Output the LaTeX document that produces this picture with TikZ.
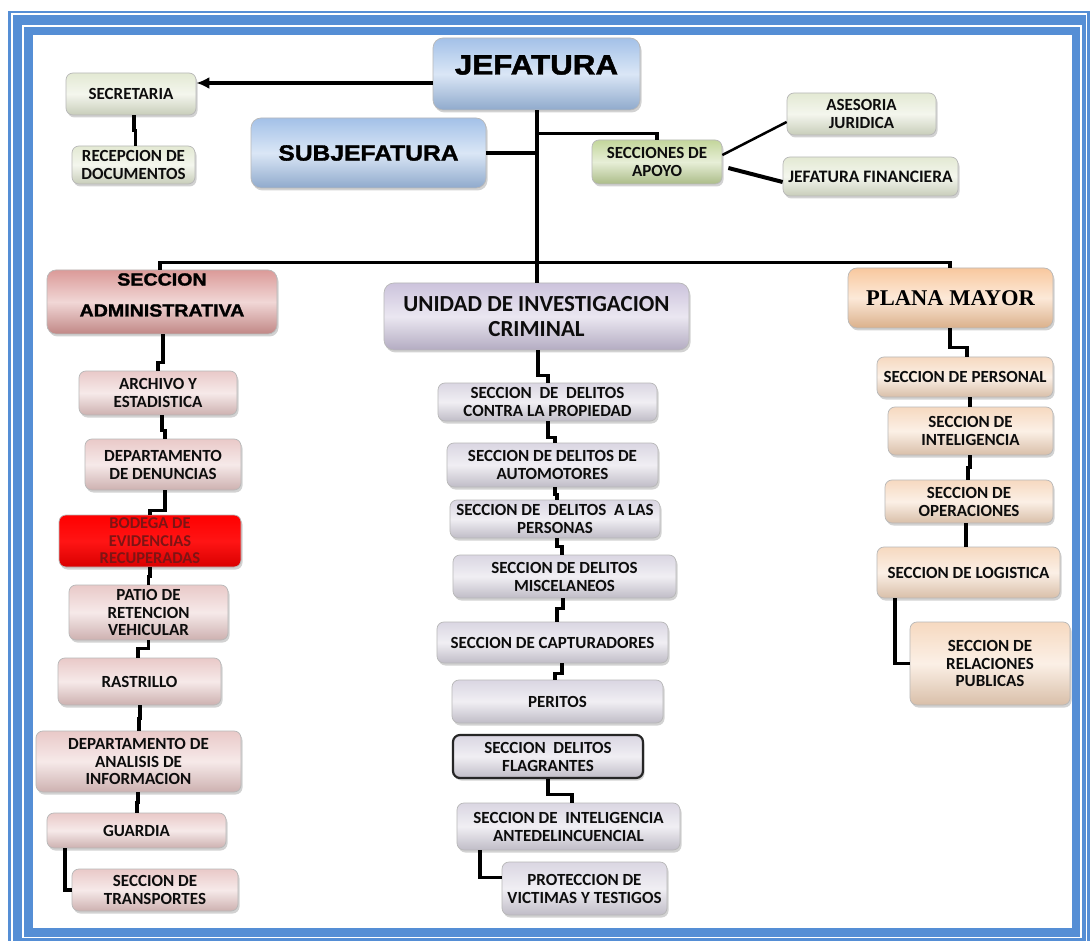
\documentclass[tikz,border=0pt]{standalone}
\usepackage{fontspec}
\setmainfont{Carlito}
\newfontfamily\heavyfont{Liberation Sans}[FakeStretch=1.12, BoldFeatures={FakeBold=1.6}]
\newfontfamily\serifbold{Liberation Serif}
\usetikzlibrary{shadows,arrows.meta,calc}
\definecolor{frameblue}{HTML}{558ED5}
\definecolor{cblue}{HTML}{A3C1E8}
\definecolor{cgreen}{HTML}{C3D69B}
\definecolor{ccream}{HTML}{E3E9D3}
\definecolor{csa}{HTML}{DB9A98}
\definecolor{clpink}{HTML}{E9C9C8}
\definecolor{cuic}{HTML}{CCC3DC}
\definecolor{clav}{HTML}{DAD6E2}
\definecolor{cpm}{HTML}{F8C89E}
\definecolor{clpeach}{HTML}{F6D9C0}
\definecolor{cbodtext}{HTML}{7E1414}
\begin{document}
\begin{tikzpicture}[x=1pt,y=-1pt,
  conn/.style={line width=3.2pt},
  boxbase/.style={rounded corners=7pt, align=center, inner sep=1pt, draw=black!28, line width=.7pt,
    text=black!95, font=\bfseries\fontsize{17}{18}\selectfont,
    drop shadow={shadow xshift=1.5pt, shadow yshift=-2.5pt, opacity=.35}},
  grad/.style={top color=#1, bottom color=#1!88!black, middle color=#1!40!white},
  wh/.style 2 args={minimum width=#1pt, minimum height=#2pt},
  bluebox/.style={boxbase, grad=cblue, rounded corners=10pt, text=black},
  greenbox/.style={boxbase, grad=cgreen},
  creambox/.style={boxbase, grad=ccream},
  sabox/.style={boxbase, grad=csa, rounded corners=9pt, text=black},
  lpinkbox/.style={boxbase, grad=clpink},
  redbox/.style={boxbase, top color=red, bottom color=red!85!black, middle color=red!92!white, text=cbodtext,
    font=\bfseries\fontsize{16.5}{17.5}\selectfont},
  uicbox/.style={boxbase, grad=cuic, rounded corners=10pt},
  lavbox/.style={boxbase, grad=clav},
  flagbox/.style={boxbase, grad=clav, draw=black!85, line width=2.2pt},
  pmbox/.style={boxbase, grad=cpm, rounded corners=9pt, text=black},
  peachbox/.style={boxbase, grad=clpeach},
  three/.style={font=\bfseries\fontsize{17}{17.5}\selectfont}
]
\useasboundingbox (0,0) rectangle (1090,941);
% frame
\fill[frameblue] (8,11) rectangle (1095,950);
\draw[white, line width=1.5pt] (11.8,14) rectangle (1086.5,960);
\draw[white, line width=1.8pt] (23,26) rectangle (1081,937.5);
\fill[white] (33,35) rectangle (1072,928);

% top level
\node[bluebox, wh={207}{72}, font=\heavyfont\bfseries\fontsize{28}{30}\selectfont] (jef) at (536.5,74) {\raisebox{9pt}[\height][\depth]{JEFATURA}};
\node[bluebox, wh={235}{70}, font=\heavyfont\bfseries\fontsize{22}{24}\selectfont] (sub) at (368.5,153) {SUBJEFATURA};
\node[creambox, wh={130}{42}] (sec) at (131,94) {SECRETARIA};
\node[creambox, wh={123}{38}] (rec) at (133.5,165) {RECEPCION DE\\DOCUMENTOS};
\node[greenbox, wh={130}{44}] (sda) at (657,162) {SECCIONES DE\\APOYO};
\node[creambox, wh={149}{42}] (aj) at (861.5,114) {ASESORIA\\JURIDICA};
\node[creambox, wh={175}{39}, font=\bfseries\fontsize{17.5}{18}\selectfont] (jf) at (870.5,176.5) {JEFATURA FINANCIERA};

% second level
\node[sabox, wh={230}{64}, font=\heavyfont\bfseries\fontsize{17.5}{20}\selectfont] (sa) at (162,302)
  {\raisebox{5pt}[\height][\depth]{\begin{tabular}{@{}c@{}}SECCION\\[11pt]ADMINISTRATIVA\end{tabular}}};
\node[uicbox, wh={305}{67}, font=\bfseries\fontsize{23}{25}\selectfont] (uic) at (536.5,316.5) {UNIDAD DE INVESTIGACION\\CRIMINAL};
\node[pmbox, wh={205}{60}, font=\serifbold\bfseries\fontsize{22.5}{24}\selectfont] (pm) at (950.5,298) {PLANA MAYOR};

% left column
\node[lpinkbox, wh={158}{44}] (arch) at (158,393) {ARCHIVO Y\\ESTADISTICA};
\node[lpinkbox, wh={156}{51}] (den) at (163,464.5) {DEPARTAMENTO\\DE DENUNCIAS};
\node[redbox, wh={182}{52}] (bod) at (150,541) {BODEGA DE\\EVIDENCIAS\\RECUPERADAS};
\node[lpinkbox, three, wh={159}{55}] (pat) at (148.5,612.5) {PATIO DE\\RETENCION\\VEHICULAR};
\node[lpinkbox, wh={163}{47}] (ras) at (139.5,681.5) {RASTRILLO};
\node[lpinkbox, three, wh={205}{61}] (dai) at (138.5,761.5) {DEPARTAMENTO DE\\ANALISIS DE\\INFORMACION};
\node[lpinkbox, wh={179}{35}] (gua) at (136.5,830.5) {GUARDIA};
\node[lpinkbox, wh={166}{42}] (tra) at (155,890) {SECCION DE\\TRANSPORTES};

% center column
\node[lavbox, wh={219}{38}] (sdcp) at (547.5,402) {SECCION~ DE~ DELITOS\\CONTRA LA PROPIEDAD};
\node[lavbox, wh={211}{44}] (aut) at (552.5,465) {SECCION DE DELITOS DE\\AUTOMOTORES};
\node[lavbox, wh={210}{38}] (per) at (555,519) {SECCION DE~ DELITOS~ A LAS\\PERSONAS};
\node[lavbox, wh={223}{43}] (mis) at (564.5,576.5) {SECCION DE DELITOS\\MISCELANEOS};
\node[lavbox, wh={231}{41}] (cap) at (552.5,642.5) {SECCION DE CAPTURADORES};
\node[lavbox, wh={211}{43}] (pe) at (557.5,701.5) {PERITOS};
\node[flagbox, wh={190}{43}] (fla) at (548,756.5) {SECCION~ DELITOS\\FLAGRANTES};
\node[lavbox, wh={223}{47}] (int) at (568.5,826.5) {SECCION DE~ INTELIGENCIA\\ANTEDELINCUENCIAL};
\node[lavbox, wh={165}{53}] (pro) at (584.5,888.5) {PROTECCION DE\\VICTIMAS Y TESTIGOS};

% right column
\node[peachbox, wh={176}{40}] (spe) at (965,377) {SECCION DE PERSONAL};
\node[peachbox, wh={165}{48}] (sin) at (970.5,431) {SECCION DE\\INTELIGENCIA};
\node[peachbox, wh={168}{43}] (sop) at (969,501.5) {SECCION DE\\OPERACIONES};
\node[peachbox, wh={183}{51}] (slo) at (968.5,572.5) {SECCION DE LOGISTICA};
\node[peachbox, three, wh={160}{83}] (srp) at (990,663.5) {SECCION DE\\RELACIONES\\PUBLICAS};

% connectors top
\coordinate (ja) at ([yshift=-9pt]jef.west);
\draw[conn, -{Latex[length=13pt,width=12pt]}] (ja) -- (ja -| sec.east);
\draw[conn] ([xshift=3pt]sec.south) -- ++(0,15) -| ([xshift=2pt]rec.north);
\draw[conn] ([xshift=0.5pt]jef.south) -- ([xshift=0.5pt]uic.north);
\draw[conn] (sub.east) -- (sub.east -| jef.south);
\draw[conn] ([yshift=-23pt]jef.south) -| (sda.north);
\draw[line width=2.5pt] ([yshift=7pt]sda.east) -- ([yshift=-8pt]aj.west);
\draw[line width=4pt] ([xshift=6pt,yshift=-6pt]sda.east) -- ([yshift=-5.5pt]jf.west);
\draw[conn] ([xshift=-2pt]sa.north) -- ++(0,-7) -| ([xshift=-0.5pt]pm.north);

% connectors left
\draw[conn] ([xshift=1pt]sa.south) -- ++(0,28) -| (arch.north);
\draw[conn] ([xshift=4pt]arch.south) -- ++(0,15) -| ([xshift=2pt]den.north);
\draw[conn] ([xshift=2pt]den.south) -- ++(0,20) -| (bod.north);
\draw[conn] (bod.south) -- ++(0,9) -| (pat.north);
\draw[conn] (pat.south) -- ++(0,8) -| ([xshift=-1.5pt]ras.north);
\draw[conn] ([xshift=0.5pt]ras.south) -- ++(0,13) -| ([xshift=0.5pt]dai.north);
\draw[conn] ([xshift=-0.5pt]dai.south) -- ++(0,10) -| ([xshift=0.5pt]gua.north);
\draw[conn] ([xshift=-71.5pt]gua.south) |- (tra.west);

% connectors center
\draw[conn] ([xshift=1.5pt]uic.south) -- ++(0,25) -| ([xshift=0.5pt]sdcp.north);
\draw[conn] ([xshift=0.5pt]sdcp.south) -- ++(0,16) -| ([xshift=2.5pt]aut.north);
\draw[conn] ([xshift=2.5pt]aut.south) -- ++(0,7) -| ([xshift=2pt]per.north);
\draw[conn] ([xshift=2pt]per.south) -- ++(0,8) -| ([xshift=-2.5pt]mis.north);
\draw[conn] ([xshift=-1.5pt]mis.south) -- ++(0,10) -| ([xshift=4.5pt]cap.north);
\draw[conn] ([xshift=9.5pt]cap.south) -- ++(0,10) -| ([xshift=-2.5pt]pe.north);
\draw[conn] (fla.south) -- ++(0,15) -| ([xshift=3.5pt]int.north);
\draw[conn] ([xshift=-88.5pt]int.south) |- ([yshift=11pt]pro.west);

% connectors right
\draw[conn] ([xshift=-0.5pt]pm.south) -- ++(0,19) -| ([xshift=2pt]spe.north);
\draw[conn] ([xshift=5pt]spe.south) -- ++(0,3) -| ([xshift=-0.5pt]sin.north);
\draw[conn] ([xshift=-0.5pt]sin.south) -- ++(0,12) -| ([xshift=-1pt]sop.north);
\draw[conn] ([xshift=-3pt]sop.south) -- ++(0,12) -| ([xshift=-2.5pt]slo.north);
\draw[conn] ([xshift=-73.5pt]slo.south) |- (srp.west);
\end{tikzpicture}
\end{document}
